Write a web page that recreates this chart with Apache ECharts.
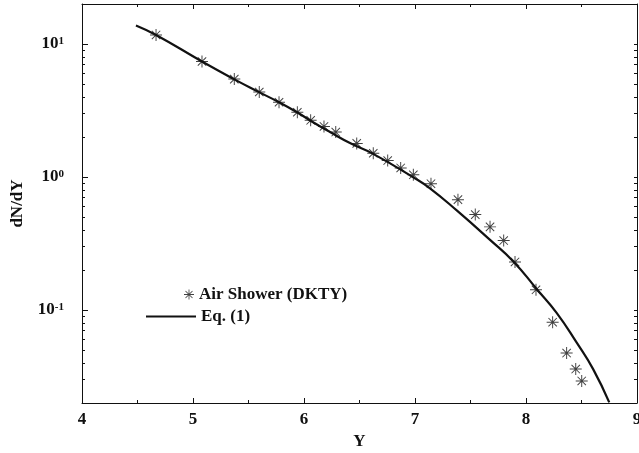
<!DOCTYPE html>
<html>
<head>
<meta charset="utf-8">
<script src="https://cdn.jsdelivr.net/npm/echarts@6.0.0/dist/echarts.min.js"></script>
<style>
  html, body { margin: 0; padding: 0; background: #fff; }
  #chart { width: 639px; height: 453px; }
</style>
</head>
<body>
<div id="chart"></div>
<script>
// air shower data points (DKTY)
const showerY = [4.667, 5.081, 5.372, 5.597, 5.775, 5.94, 6.06, 6.18, 6.286, 6.475, 6.624, 6.754, 6.871, 6.985,
  7.144, 7.387, 7.543, 7.676, 7.799, 7.901, 8.09, 8.24, 8.366, 8.448, 8.502]
const showerDNdY = [11.7, 7.39, 5.45, 4.36, 3.65, 3.07, 2.67, 2.40, 2.18, 1.79, 1.51, 1.33, 1.17, 1.04,
  0.891, 0.676, 0.522, 0.422, 0.333, 0.230, 0.142, 0.081, 0.0475, 0.036, 0.0293]

// Eq. (1) curve
const eqY = [4.486, 4.667, 5.081, 5.369, 5.595, 5.775, 5.937, 6.063, 6.234, 6.414, 6.619, 6.985, 7.135,
  7.376, 7.676, 7.886, 8.096, 8.276, 8.457, 8.606, 8.75]
const eqDNdY = [13.8, 11.7, 7.39, 5.45, 4.35, 3.65, 3.07, 2.64, 2.18, 1.80, 1.50, 0.995, 0.823,
  0.561, 0.337, 0.232, 0.144, 0.0953, 0.0568, 0.0358, 0.0202]

// axis ticks
const xMin = 4, xMax = 9
const yMin = 0.02, yMax = 20
const yLabelValues = [0.1, 1, 10]
const yMinorValues = [0.03, 0.04, 0.05, 0.06, 0.07, 0.08, 0.09, 0.2, 0.3, 0.4, 0.5, 0.6, 0.7, 0.8, 0.9,
  2, 3, 4, 5, 6, 7, 8, 9]

const font = '"Liberation Serif", "Times New Roman", serif'
const ink = '#111'

// asterisk marker
const starPath = 'path://M9.2 0h1.6v20h-1.6z M0 9.2h20v1.6h-20z ' +
  'M2.43 3.57L3.57 2.43L17.57 16.43L16.43 17.57z M16.43 2.43L17.57 3.57L3.57 17.57L2.43 16.43z M8 8h4v4h-4z'

const myChart = echarts.init(document.getElementById('chart'))

const axisLine = { show: true, onZero: false, lineStyle: { color: ink, width: 1 } }

// tick-only axes in log10 space (no data bound to them)
function tickAxis(position, values, len, showLine) {
  return {
    type: 'value', min: Math.log10(yMin), max: Math.log10(yMax), position: position,
    axisLine: showLine ? axisLine : { show: false, onZero: false },
    axisTick: { show: true, inside: true, length: len, customValues: values.map(Math.log10), lineStyle: { color: ink, width: 1 } },
    axisLabel: { show: false },
    splitLine: { show: false }
  }
}

function xAxisOf(position, withLabels) {
  return {
    type: 'value', min: xMin, max: xMax, interval: 1, position: position,
    name: withLabels ? 'Y' : '', nameLocation: 'middle', nameGap: 29,
    nameTextStyle: { fontFamily: font, fontWeight: 'bold', fontSize: 17, color: ink },
    axisLine: axisLine,
    axisTick: { show: true, inside: true, length: 5, lineStyle: { color: ink, width: 1 } },
    minorTick: { show: true, splitNumber: 2, length: 3, lineStyle: { color: ink, width: 1 } },
    axisLabel: { show: withLabels, margin: 8, fontFamily: font, fontWeight: 'bold', fontSize: 17, color: ink },
    splitLine: { show: false },
    minorSplitLine: { show: false }
  }
}

myChart.setOption({
  animation: false,
  backgroundColor: '#fff',
  grid: { left: 82, right: 2, top: 4, bottom: 50, outerBoundsMode: 'none', containLabel: false },
  legend: [{
    data: ['Air Shower (DKTY)'],
    left: 184, top: 286, padding: 0,
    itemWidth: 10, itemHeight: 10,
    textStyle: { fontFamily: font, fontWeight: 'bold', fontSize: 17, color: ink }
  }, {
    data: ['Eq. (1)'],
    left: 145, top: 308, padding: 0,
    itemWidth: 50, itemHeight: 10,
    itemStyle: { opacity: 0 },
    textStyle: { fontFamily: font, fontWeight: 'bold', fontSize: 17, color: ink }
  }],
  xAxis: [xAxisOf('bottom', true), xAxisOf('top', false)],
  yAxis: [{
    type: 'log', logBase: 10, min: yMin, max: yMax,
    name: 'dN/dY', nameLocation: 'middle', nameGap: 56,
    nameTextStyle: { fontFamily: font, fontWeight: 'bold', fontSize: 17, color: ink },
    axisLine: axisLine,
    axisTick: { show: false },
    axisLabel: {
      customValues: yLabelValues,
      margin: 18,
      formatter: function (v) {
        return '{b|10}{s|' + Math.round(Math.log10(v)) + '}'
      },
      rich: {
        b: { fontFamily: font, fontWeight: 'bold', fontSize: 17, color: ink, verticalAlign: 'bottom' },
        s: { fontFamily: font, fontWeight: 'bold', fontSize: 11, color: ink, verticalAlign: 'top' }
      }
    },
    splitLine: { show: false }
  },
  tickAxis('left', yLabelValues, 6, false),
  tickAxis('left', yMinorValues, 3, false),
  tickAxis('right', yLabelValues.concat(yMinorValues), 3, true)
  ],
  series: [{
    name: 'Air Shower (DKTY)',
    type: 'scatter',
    symbol: starPath,
    symbolSize: 12,
    itemStyle: { color: ink },
    data: showerY.map((v, i) => [v, showerDNdY[i]])
  }, {
    name: 'Eq. (1)',
    type: 'line',
    symbol: 'none',
    smooth: 0.5,
    lineStyle: { color: ink, width: 2.2 },
    itemStyle: { color: ink },
    data: eqY.map((v, i) => [v, eqDNdY[i]])
  }]
})

window.addEventListener('resize', () => { myChart.resize() })
</script>
</body>
</html>
